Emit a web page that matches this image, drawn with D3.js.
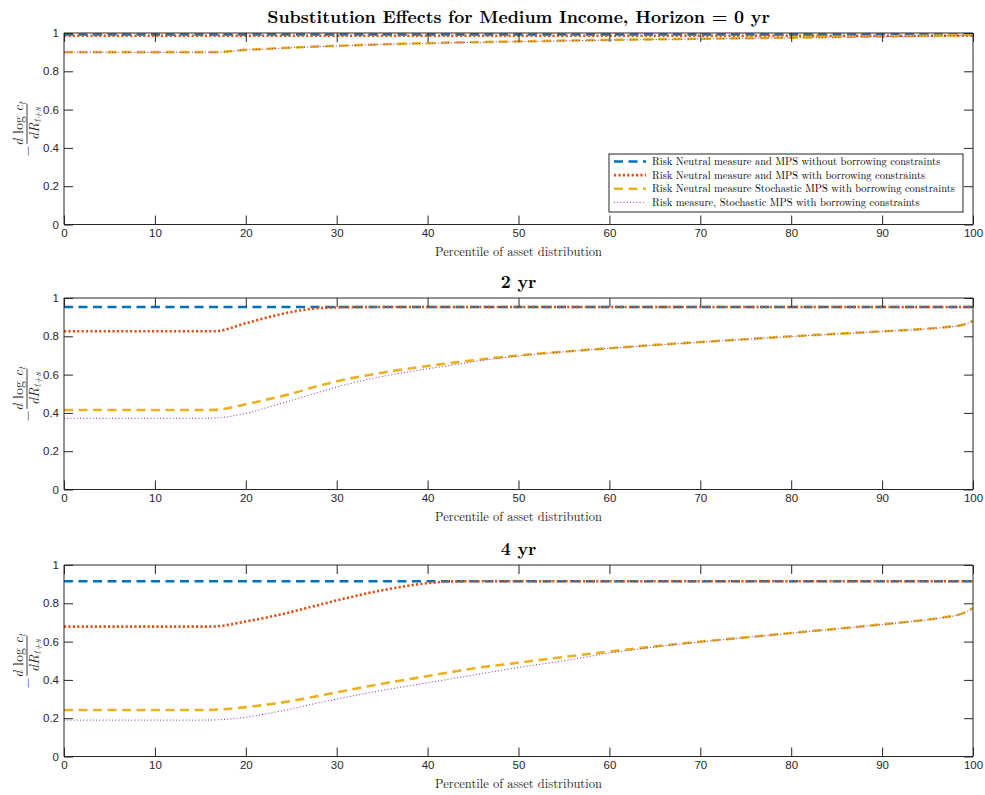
<!DOCTYPE html>
<html>
<head>
<meta charset="utf-8">
<script src="https://cdn.jsdelivr.net/npm/d3@7"></script>
<style>
  html, body { margin: 0; padding: 0; background: #fff; }
  svg { display: block; }
</style>
</head>
<body>
<svg id="chart" width="985" height="795"></svg>
<script>
// Percentile grid shared by every series
const percentiles = [0, 5, 10, 15, 16.5, 20, 22.5, 25, 27.5, 30, 35, 40, 42.5, 45, 50, 55, 60, 65, 70, 75, 80, 85, 90, 95, 97, 99, 100];

// Horizon = 0 yr
const h0NoBorrow   = percentiles.map(() => 0.992);
const h0Borrow     = percentiles.map(() => 0.986);
const h0StochMPS   = [0.9, 0.9, 0.9, 0.9, 0.9, 0.912, 0.918, 0.924, 0.929, 0.933, 0.941, 0.947, 0.95, 0.952, 0.956, 0.96, 0.964, 0.967, 0.97, 0.973, 0.976, 0.979, 0.982, 0.985, 0.987, 0.99, 0.992];
const h0RiskStoch  = [0.899, 0.899, 0.899, 0.899, 0.899, 0.911, 0.917, 0.923, 0.928, 0.932, 0.94, 0.946, 0.949, 0.951, 0.955, 0.959, 0.963, 0.966, 0.969, 0.972, 0.975, 0.978, 0.981, 0.984, 0.986, 0.989, 0.991];

// Horizon = 2 yr
const h2NoBorrow   = percentiles.map(() => 0.953);
const h2Borrow     = [0.826, 0.826, 0.826, 0.826, 0.826, 0.868, 0.9, 0.927, 0.945, 0.951, 0.953, 0.953, 0.953, 0.953, 0.953, 0.953, 0.953, 0.953, 0.953, 0.953, 0.953, 0.953, 0.953, 0.953, 0.953, 0.953, 0.953];
const h2StochMPS   = [0.415, 0.415, 0.415, 0.415, 0.416, 0.445, 0.472, 0.5, 0.535, 0.565, 0.61, 0.645, 0.66, 0.675, 0.7, 0.72, 0.738, 0.755, 0.77, 0.785, 0.8, 0.813, 0.826, 0.84, 0.848, 0.862, 0.88];
const h2RiskStoch  = [0.372, 0.372, 0.372, 0.372, 0.373, 0.398, 0.43, 0.465, 0.5, 0.535, 0.59, 0.63, 0.648, 0.667, 0.697, 0.719, 0.737, 0.754, 0.769, 0.784, 0.799, 0.812, 0.825, 0.839, 0.847, 0.861, 0.879];

// Horizon = 4 yr
const h4NoBorrow   = percentiles.map(() => 0.915);
const h4Borrow     = [0.678, 0.678, 0.678, 0.678, 0.679, 0.705, 0.728, 0.755, 0.785, 0.815, 0.868, 0.905, 0.914, 0.915, 0.915, 0.915, 0.915, 0.915, 0.915, 0.915, 0.915, 0.915, 0.915, 0.915, 0.915, 0.915, 0.915];
const h4StochMPS   = [0.243, 0.243, 0.243, 0.243, 0.244, 0.258, 0.272, 0.29, 0.312, 0.335, 0.38, 0.42, 0.44, 0.46, 0.49, 0.52, 0.548, 0.575, 0.6, 0.622, 0.645, 0.667, 0.69, 0.715, 0.728, 0.75, 0.775];
const h4RiskStoch  = [0.19, 0.19, 0.19, 0.19, 0.191, 0.205, 0.225, 0.248, 0.275, 0.3, 0.345, 0.385, 0.405, 0.425, 0.465, 0.5, 0.54, 0.572, 0.598, 0.621, 0.644, 0.666, 0.689, 0.714, 0.727, 0.749, 0.774];

const panelTitles = ["Substitution Effects for Medium Income, Horizon = 0 yr", "2 yr", "4 yr"];
const seriesNames = [
  "Risk Neutral measure and MPS without borrowing constraints",
  "Risk Neutral measure and MPS with borrowing constraints",
  "Risk Neutral measure Stochastic MPS with borrowing constraints",
  "Risk measure, Stochastic MPS with borrowing constraints"
];
const xTicks = [0, 10, 20, 30, 40, 50, 60, 70, 80, 90, 100];
const yTicks = [0, 0.2, 0.4, 0.6, 0.8, 1];

const panels = [
  [h0NoBorrow, h0Borrow, h0StochMPS, h0RiskStoch],
  [h2NoBorrow, h2Borrow, h2StochMPS, h2RiskStoch],
  [h4NoBorrow, h4Borrow, h4StochMPS, h4RiskStoch]
];

// line styles per series
const styles = [
  { color: "#0072BD", width: 2.6, dash: "9,5.5" },
  { color: "#D95319", width: 2.6, dash: "2.2,2.2" },
  { color: "#EDB120", width: 2.6, dash: "9,5.5" },
  { color: "#7E2F8E", width: 1.0, dash: "1,2.2" }
];

const svg = d3.select("#chart");
const left = 64, right = 973;
const panelTops = [33, 298, 565];
const panelH = 191.5;
const serif = "'Latin Modern Roman','CMU Serif','DejaVu Serif','Liberation Serif',serif";
const tickFont = "'Liberation Sans', Arial, Helvetica, sans-serif";
const axisColor = "#262626";

const x = d3.scaleLinear().domain([0, 100]).range([left, right]);

panels.forEach((series, p) => {
  const top = panelTops[p];
  const y = d3.scaleLinear().domain([0, 1]).range([top + panelH, top]);
  const g = svg.append("g");

  // lines
  const line = d3.line()
    .x((d, i) => x(percentiles[i]))
    .y(d => y(d))
    .curve(d3.curveMonotoneX);

  const clipId = "clip" + p;
  svg.append("clipPath").attr("id", clipId)
    .append("rect").attr("x", left).attr("y", top - 2).attr("width", right - left).attr("height", panelH + 2);

  series.forEach((vals, k) => {
    g.append("path")
      .datum(vals)
      .attr("clip-path", `url(#${clipId})`)
      .attr("d", line)
      .attr("fill", "none")
      .attr("stroke", styles[k].color)
      .attr("stroke-width", styles[k].width)
      .attr("stroke-dasharray", styles[k].dash);
  });

  // axes (ticks inward, mirrored on top/right)
  const tl = 9;
  const xb = g.append("g").attr("transform", `translate(0,${top + panelH})`)
    .call(d3.axisBottom(x).tickValues(xTicks).tickSize(-tl).tickPadding(4).tickFormat(d3.format("d")));
  const xt = g.append("g").attr("transform", `translate(0,${top})`)
    .call(d3.axisTop(x).tickValues(xTicks).tickSize(-tl).tickFormat(""));
  const yl = g.append("g").attr("transform", `translate(${left},0)`)
    .call(d3.axisLeft(y).tickValues(yTicks).tickSize(-tl).tickPadding(5).tickFormat(d => d === 0 || d === 1 ? d3.format("d")(d) : d3.format(".1f")(d)));
  const yr = g.append("g").attr("transform", `translate(${right},0)`)
    .call(d3.axisRight(y).tickValues(yTicks).tickSize(-tl).tickFormat(""));
  [xb, xt, yl, yr].forEach(a => {
    a.selectAll("path.domain").attr("stroke", axisColor).attr("stroke-width", 1);
    a.selectAll(".tick line").attr("stroke", axisColor).attr("stroke-width", 1);
    a.selectAll(".tick text").attr("fill", axisColor).style("font-family", tickFont).style("font-size", "11.5px");
  });
  xb.selectAll("path.domain").attr("d", `M${left},0H${right}`);
  xt.selectAll("path.domain").attr("d", `M${left},0H${right}`);
  yl.selectAll("path.domain").attr("d", `M0,${top + panelH}V${top}`);
  yr.selectAll("path.domain").attr("d", `M0,${top + panelH}V${top}`);

  // title
  g.append("text")
    .attr("x", (left + right) / 2).attr("y", top - 10)
    .attr("text-anchor", "middle")
    .style("font-family", serif).style("font-weight", "bold").style("font-size", "17.5px")
    .attr("fill", "#000")
    .text(panelTitles[p]);

  // x label
  g.append("text")
    .attr("x", (left + right) / 2).attr("y", top + panelH + 31)
    .attr("text-anchor", "middle")
    .style("font-family", serif).style("font-size", "12.5px")
    .attr("fill", axisColor)
    .text("Percentile of asset distribution");

  // y label: - (d log c_t) / (d R_{t+s}), rotated
  const cy = top + panelH / 2 - 5;
  const ylab = g.append("g").attr("transform", `translate(27,${cy}) rotate(-90)`)
    .style("font-family", serif).attr("fill", axisColor);
  ylab.append("text").attr("x", -27).attr("y", 4.5).attr("text-anchor", "middle").style("font-size", "14px").text("\u2212");
  const num = ylab.append("text").attr("x", 0).attr("y", -4).attr("text-anchor", "middle").style("font-size", "14px");
  num.append("tspan").style("font-style", "italic").text("d");
  num.append("tspan").text(" log ");
  num.append("tspan").style("font-style", "italic").text("c");
  num.append("tspan").style("font-style", "italic").style("font-size", "10px").attr("dy", 2.5).text("t");
  ylab.append("line").attr("x1", -20).attr("x2", 20).attr("y1", 0).attr("y2", 0).attr("stroke", axisColor).attr("stroke-width", 0.9);
  const den = ylab.append("text").attr("x", 0).attr("y", 11.5).attr("text-anchor", "middle").style("font-size", "14px");
  den.append("tspan").style("font-style", "italic").text("dR");
  den.append("tspan").style("font-style", "italic").style("font-size", "10px").attr("dy", 2.5).text("t+s");

  // legend in the first panel
  if (p === 0) {
    const lg = g.append("g").attr("transform", "translate(609,154)");
    lg.append("rect").attr("width", 354).attr("height", 58).attr("fill", "#fff").attr("stroke", axisColor).attr("stroke-width", 1);
    seriesNames.forEach((name, k) => {
      const ly = 7.5 + k * 13.6;
      lg.append("line").attr("x1", 5).attr("x2", 37).attr("y1", ly).attr("y2", ly)
        .attr("stroke", styles[k].color).attr("stroke-width", styles[k].width)
        .attr("stroke-dasharray", styles[k].dash);
      lg.append("text").attr("x", 43).attr("y", ly + 3.5)
        .style("font-family", serif).style("font-size", "10.5px").attr("fill", "#000")
        .text(name);
    });
  }
});
</script>
</body>
</html>
